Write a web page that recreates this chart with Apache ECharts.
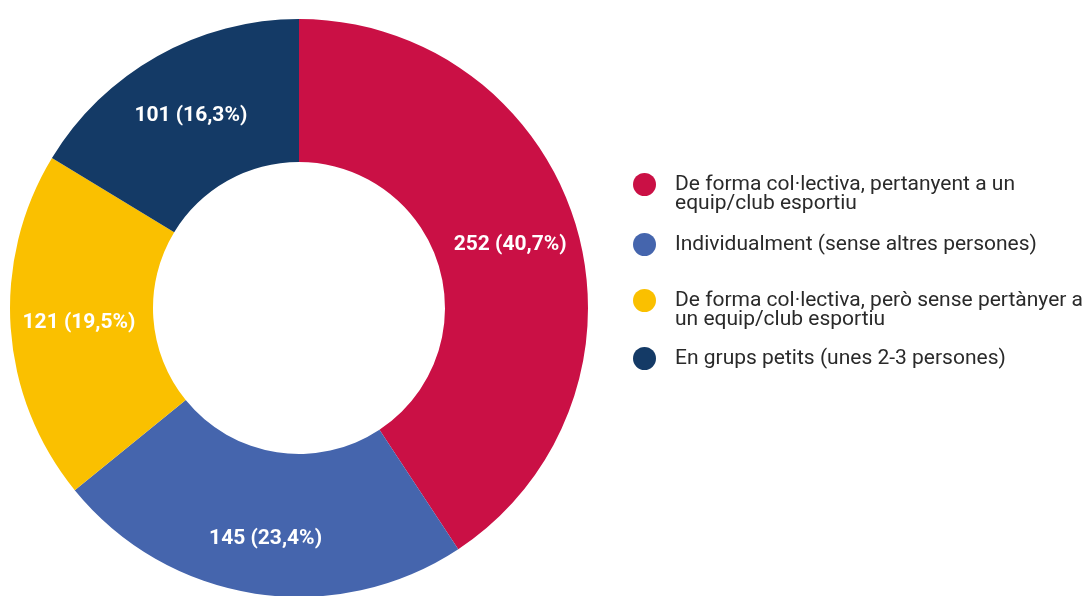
<!DOCTYPE html>
<html><head><meta charset="utf-8">
<script src="https://cdn.jsdelivr.net/npm/echarts@6/dist/echarts.min.js"></script>
<style>html,body{margin:0;padding:0;background:#fff}#c{width:1090px;height:596px}</style>
</head><body><div id="c"></div>
<script>
var categories = [
  'De forma col·lectiva, pertanyent a un\nequip/club esportiu',
  'Individualment (sense altres persones)',
  'De forma col·lectiva, però sense pertànyer a\nun equip/club esportiu',
  'En grups petits (unes 2-3 persones)'
];
var values = [252, 145, 121, 101];
var percentLabels = ['40,7%', '23,4%', '19,5%', '16,3%'];
var colors = ['#CA1045', '#4565AD', '#FAC000', '#143A66'];

var data = categories.map(function (c, i) {
  var item = { name: c, value: values[i], itemStyle: { color: colors[i] } };
  if (i === 1) item.label = { offset: [0, 13] };
  return item;
});

var legendTops = [155, 233, 271, 347];
var legends = categories.map(function (c, i) {
  var twoLine = c.indexOf('\n') >= 0;
  return {
    data: [c],
    orient: 'vertical',
    left: 633,
    top: legendTops[i],
    padding: 0,
    icon: 'circle',
    itemWidth: 23,
    itemHeight: 23,
    itemGap: 0,
    selectedMode: false,
    formatter: function (n) { return twoLine ? ' \n' + n : n; },
    textStyle: {
      fontFamily: 'Roboto',
      fontSize: 21,
      lineHeight: 19,
      color: '#2a2a2a',
      padding: [0, 0, 0, 14]
    }
  };
});

var chart = echarts.init(document.getElementById('c'));
chart.setOption({
  animation: false,
  legend: legends,
  series: [{
    type: 'pie',
    center: [299, 308],
    radius: [146, 289],
    startAngle: 90,
    clockwise: true,
    avoidLabelOverlap: false,
    itemStyle: { borderWidth: 0 },
    label: {
      show: true,
      position: 'inside',
      color: '#fff',
      fontFamily: 'Roboto',
      fontWeight: 'bold',
      fontSize: 21,
      formatter: function (p) { return p.value + ' (' + percentLabels[p.dataIndex] + ')'; }
    },
    labelLine: { show: false },
    emphasis: { disabled: true },
    data: data
  }]
});
</script>
</body></html>
